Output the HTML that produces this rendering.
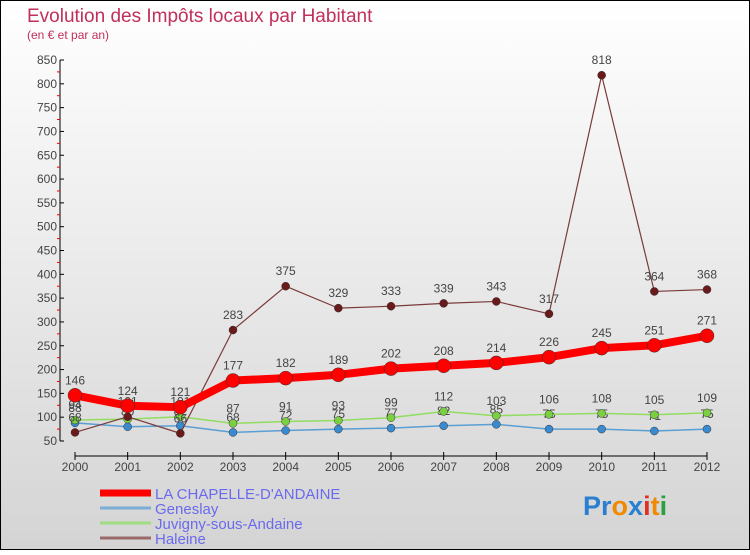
<!DOCTYPE html>
<html><head><meta charset="utf-8"><style>
html,body{margin:0;padding:0}
body{width:750px;height:550px;overflow:hidden;font-family:"Liberation Sans",sans-serif}
svg text{font-family:"Liberation Sans",sans-serif}
</style></head><body>
<svg id="c" width="750" height="550" xmlns="http://www.w3.org/2000/svg">
<defs><linearGradient id="bg" x1="0" y1="0" x2="0" y2="1"><stop offset="0" stop-color="#ffffff"/><stop offset="1" stop-color="#d4d4d4"/></linearGradient></defs>
<rect x="0.5" y="0.5" width="749" height="549" fill="url(#bg)" stroke="#000"/>
<text x="27" y="22" font-size="19" fill="#c0305a">Evolution des Impôts locaux par Habitant</text>
<text x="27" y="39" font-size="12" fill="#c0305a">(en € et par an)</text>
<g id="axes"></g><g id="series"></g><g id="legend"></g>
<text x="583" y="515" font-size="27" font-weight="bold"><tspan fill="#2a7fd0">Pr</tspan><tspan fill="#f08a00">o</tspan><tspan fill="#2a7fd0">x</tspan><tspan fill="#e03020">i</tspan><tspan fill="#f08a00">t</tspan><tspan fill="#2aa040">i</tspan></text>
</svg>
<script>
const years=[2000,2001,2002,2003,2004,2005,2006,2007,2008,2009,2010,2011,2012];
const yTicks=[50,100,150,200,250,300,350,400,450,500,550,600,650,700,750,800,850];
const chapelle=[146,124,121,177,182,189,202,208,214,226,245,251,271];
const geneslay=[88,80,82,68,72,75,77,82,85,75,75,71,75];
const juvigny=[94,96,101,87,91,93,99,112,103,106,108,105,109];
const haleine=[68,101,66,283,375,329,333,339,343,317,818,364,368];
const seriesNames=["LA CHAPELLE-D'ANDAINE","Geneslay","Juvigny-sous-Andaine","Haleine"];
const NS="http://www.w3.org/2000/svg";
function xs(i){return 75+i*(707-75)/(years.length-1);}
function ys(v){return 441-(v-50)*(381/800);}
function mk(tag,attrs,parent){const e=document.createElementNS(NS,tag);for(const k in attrs)e.setAttribute(k,attrs[k]);parent.appendChild(e);return e;}
const ax=document.getElementById('axes');
let yl=mk('line',{x1:60,y1:ys(850),x2:60,y2:ys(50),stroke:'#000'},ax);


yTicks.forEach(t=>{
 mk('line',{x1:60,y1:ys(t),x2:64,y2:ys(t),stroke:'#000'},ax);
 if(t<850) mk('line',{x1:57,y1:ys(t+25),x2:60,y2:ys(t+25),stroke:'#e00'},ax);
 const tx=mk('text',{x:57,y:ys(t)+4,'font-size':12,fill:'#444','text-anchor':'end'},ax);
 
 
 tx.textContent=t;
});
let xl=mk('line',{x1:75,y1:456,x2:707,y2:456,stroke:'#000'},ax);


years.forEach((y,i)=>{
 mk('line',{x1:xs(i),y1:452,x2:xs(i),y2:460,stroke:'#000'},ax);
 const tx=mk('text',{x:xs(i),y:471,'font-size':12,fill:'#444','text-anchor':'middle'},ax);
 
 
 tx.textContent=y;
});
const sg=document.getElementById('series');
function draw(data,name,color,width,r,mcolor,labels){
 const g=mk('g',{},sg);
 
 
 mk('polyline',{points:data.map((v,i)=>xs(i)+','+ys(v)).join(' '),fill:'none',stroke:color,'stroke-width':width,'stroke-linejoin':'round'},g);
 data.forEach((v,i)=>{
  const c=mk('circle',{cx:xs(i),cy:ys(v),r:r,fill:mcolor,stroke:'#333','stroke-width':0.5},g);
  
  
  if(labels){const t=mk('text',{x:xs(i),y:ys(v)-11,'font-size':12,fill:'#444','text-anchor':'middle'},g);
  
  
  t.textContent=v;}
 });
}
draw(geneslay,'geneslay-series','#5a9fd4',1.5,4,'#3a8ad0',true);
draw(juvigny,'juvigny-series','#90dd60',1.5,4,'#7ad040',true);
draw(haleine,'haleine-series','#7a3a3a',1.2,4,'#6a1a1a',true);
draw(chapelle,'chapelle-series','#f00',8,7,'#f00',true);
const lg=document.getElementById('legend');
const lc=['#f00','#7aaed4','#a0dd80','#9a6a6a'],lw=[7,3,3,3];
seriesNames.forEach((n,i)=>{
 const y=493+i*15;
 const g=mk('g',{},lg);
 
 
 mk('line',{x1:100,y1:y,x2:151,y2:y,stroke:lc[i],'stroke-width':lw[i]},g);
 const t=mk('text',{x:155,y:y+6,'font-size':15,fill:'#6a6aee'},g);
 t.textContent=n;
});
</script>
</body></html>
